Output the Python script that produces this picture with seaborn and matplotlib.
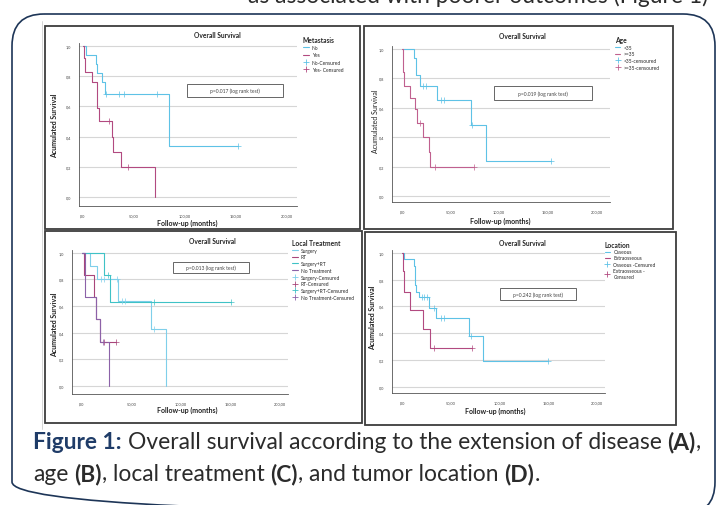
import numpy as np
import pandas as pd
import seaborn as sns
import matplotlib.pyplot as plt
from matplotlib.lines import Line2D
from matplotlib.patches import Rectangle, FancyBboxPatch

W, H = 721, 506

# --- data (months, survival after each step, censored months)
meta_labels = ["No", "Yes"]
meta_no_t = [0, 3, 12.5, 14, 19, 21.5, 84.5]
meta_no_s = [1.0, 0.94, 0.88, 0.82, 0.76, 0.68, 0.34]
meta_no_c = [23, 35, 40, 73, 152]
meta_yes_t = [0, 1, 2, 9, 14, 15.5, 28.5, 29.5, 37, 70.5]
meta_yes_s = [1.0, 0.92, 0.83, 0.76, 0.59, 0.50, 0.40, 0.30, 0.20, 0.0]
meta_yes_c = [26, 44]

age_labels = ["<35", ">=35"]
age_lt_t = [0, 12.5, 14, 18, 35.5, 71, 86]
age_lt_s = [1.0, 0.94, 0.82, 0.75, 0.65, 0.48, 0.24]
age_lt_c = [21.5, 24.5, 40, 43.5, 72.5, 153]
age_ge_t = [0, 1, 2, 8, 13, 15.5, 22, 28, 29]
age_ge_s = [1.0, 0.84, 0.75, 0.67, 0.59, 0.50, 0.40, 0.30, 0.20]
age_ge_c = [18.5, 34, 74.5]

treat_labels = ["Surgery", "RT", "Surgery+RT", "No Treatment"]
treat_surg_t = [0, 8, 15, 37, 69.5, 84.5]
treat_surg_s = [1.0, 0.90, 0.80, 0.64, 0.43, 0.0]
treat_surg_c = [19.5, 22.5, 35.5, 40.5, 44, 73]
treat_rt_t = [0, 2, 12.5, 14, 18.5]
treat_rt_s = [1.0, 0.83, 0.67, 0.50, 0.33]
treat_rt_c = [22, 35]
treat_both_t = [0, 22, 29]
treat_both_s = [1.0, 0.83, 0.63]
treat_both_c = [27, 73, 151]
treat_none_t = [0, 3, 14, 18.5, 28]
treat_none_s = [1.0, 0.67, 0.50, 0.33, 0.0]
treat_none_c = [21]

loc_labels = ["Osseous", "Extraosseous"]
loc_oss_t = [0, 2, 12, 12.5, 13.5, 14.5, 17, 27, 35, 68.5, 83]
loc_oss_s = [1.0, 0.95, 0.90, 0.86, 0.76, 0.71, 0.67, 0.59, 0.51, 0.38, 0.19]
loc_oss_c = [20, 22.5, 25, 32, 40, 43, 70, 149]
loc_ext_t = [0, 1, 2, 8, 21.5, 28]
loc_ext_s = [1.0, 0.86, 0.71, 0.57, 0.43, 0.29]
loc_ext_c = [33, 72]

y_ticks = [0.0, 0.2, 0.4, 0.6, 0.8, 1.0]
y_tick_labels = ["0,0", "0,2", "0,4", "0,6", "0,8", "1,0"]
x_ticks = [0, 50, 100, 150, 200]
x_tick_labels = [",00", "50,00", "100,00", "150,00", "200,00"]

BLUE = "#5ec2e6"
PINK = "#b24a80"

sns.set_theme(style="white")
plt.rcParams["font.family"] = ["Lato", "DejaVu Sans"]

panels = [
    dict(border=(45, 27, 360, 230), axbox=(79, 44, 297, 207), xlim=(-3.9, 210), ylim=(-0.06, 1.02),
         title=(217, 35), xlab=(187, 223), ylab=(55, 126), ybold=True,
         leg_title="Metastasis", leg=(323, 37), lab_sp=0.45,
         pbox=(187, 85, 283, 98), ptext="p=0.017 (log rank test)",
         groups=[(meta_no_t, meta_no_s, meta_no_c, BLUE), (meta_yes_t, meta_yes_s, meta_yes_c, PINK)],
         names=meta_labels, cens_names=["No-Censured", "Yes- Censured"]),
    dict(border=(364, 27, 673, 230), axbox=(392, 47, 610, 203), xlim=(-10.3, 214), ylim=(-0.04, 1.02),
         title=(522, 36), xlab=(500, 221), ylab=(375, 121), ybold=False,
         leg_title="Age", leg=(637, 37), lab_sp=0.35,
         pbox=(494, 87, 592, 101), ptext="p=0.019 (log rank test)",
         groups=[(age_lt_t, age_lt_s, age_lt_c, BLUE), (age_ge_t, age_ge_s, age_ge_c, "#c0608f")],
         names=age_labels, cens_names=["<35-censoured", ">=35-censoured"]),
    dict(border=(45, 232, 362, 424), axbox=(72, 251, 288, 395), xlim=(-9.8, 208), ylim=(-0.06, 1.02),
         title=(212, 241), xlab=(187, 410), ylab=(55, 325), ybold=True,
         leg_title="Local Treatment", leg=(323, 240), lab_sp=0.35,
         pbox=(173, 263, 249, 274), ptext="p=0.013 (log rank test)",
         groups=[(treat_surg_t, treat_surg_s, treat_surg_c, "#7fcfea"),
                 (treat_rt_t, treat_rt_s, treat_rt_c, "#a8457a"),
                 (treat_both_t, treat_both_s, treat_both_c, "#3fc2c6"),
                 (treat_none_t, treat_none_s, treat_none_c, "#8c62a8")],
         names=treat_labels,
         cens_names=["Surgery-Censured", "RT-Censured", "Surgery+RT-Censured", "No Treatment-Censured"]),
    dict(border=(365, 233, 676, 426), axbox=(392, 251, 605, 394), xlim=(-10.6, 208), ylim=(-0.045, 1.02),
         title=(522, 243), xlab=(495, 411), ylab=(373, 318), ybold=True,
         leg_title="Location", leg=(630, 242), lab_sp=0.25,
         pbox=(500, 289, 576, 301), ptext="p=0.242 (log rank test)",
         groups=[(loc_oss_t, loc_oss_s, loc_oss_c, BLUE), (loc_ext_t, loc_ext_s, loc_ext_c, PINK)],
         names=loc_labels, cens_names=["Osseous -Censured", "Extraosseous -\nCensured"]),
]


def km(ax, t, s, c, color):
    end = max([t[-1]] + list(c))
    df = pd.DataFrame({"month": list(t) + [end], "surv": list(s) + [s[-1]]})
    sns.lineplot(data=df, x="month", y="surv", drawstyle="steps-post", color=color, lw=0.8,
                 estimator=None, sort=False, ax=ax)
    if c:
        idx = np.searchsorted(t, c, side="right") - 1
        sns.scatterplot(x=c, y=np.asarray(s)[idx], marker="+", s=14, color=color,
                        linewidth=0.5, ax=ax, zorder=3)


fig = plt.figure(figsize=(W / 100, H / 100), dpi=100)
bg = fig.add_axes([0, 0, 1, 1])
bg.set_xlim(0, W)
bg.set_ylim(H, 0)
bg.axis("off")

# outer rounded frame and image edge
bg.add_patch(FancyBboxPatch((12, 15), 703, 500, boxstyle="round,pad=0,rounding_size=32",
                            fc="none", ec="#1d3557", lw=1.2))
bg.plot([42, 42], [22, 430], color="#cfcfcf", lw=0.6)

for p in panels:
    x0, y0, x1, y1 = p["border"]
    bg.add_patch(Rectangle((x0, y0), x1 - x0, y1 - y0, fc="white", ec="#3d3d3d", lw=1.3))

    a0, b0, a1, b1 = p["axbox"]
    ax = fig.add_axes([a0 / W, 1 - b1 / H, (a1 - a0) / W, (b1 - b0) / H])
    ax.set_facecolor("none")
    for t, s, c, col in p["groups"]:
        km(ax, t, s, c, col)
    ax.set_xlim(*p["xlim"])
    ax.set_ylim(*p["ylim"])
    ax.set_xticks(x_ticks)
    ax.set_xticklabels(x_tick_labels)
    ax.set_yticks(y_ticks)
    ax.set_yticklabels(y_tick_labels)
    ax.set(xlabel="", ylabel="")
    ax.tick_params(labelsize=2.8, labelcolor="#444444", length=1.5, width=0.4, pad=4, colors="#666666")
    ax.grid(axis="y", color="#d6d6d6", lw=0.8)
    ax.set_axisbelow(True)
    for side in ["top", "right"]:
        ax.spines[side].set_visible(False)
    for side in ["left", "bottom"]:
        ax.spines[side].set_color("#555555")
        ax.spines[side].set_linewidth(0.6)

    bg.text(*p["title"], "Overall Survival", fontsize=4.8, fontweight="bold", ha="center", va="center",
            color="#222222")
    bg.text(*p["xlab"], "Follow-up (months)", fontsize=5.0, fontweight="bold", ha="center", va="center",
            color="#222222")
    bg.text(*p["ylab"], "Acumulated Survival", fontsize=5.0, rotation=90,
            fontweight="bold" if p["ybold"] else "normal", ha="center", va="center", color="#222222")

    q0, r0, q1, r1 = p["pbox"]
    bg.add_patch(Rectangle((q0, r0), q1 - q0, r1 - r0, fc="white", ec="#666666", lw=0.7, zorder=5))
    bg.text((q0 + q1) / 2, (r0 + r1) / 2, p["ptext"], fontsize=3.6, ha="center", va="center",
            color="#444444", zorder=6)

    handles = [Line2D([], [], color=g[3], lw=0.8) for g in p["groups"]]
    handles += [Line2D([], [], color=g[3], marker="+", ls="none", ms=4, mew=0.6) for g in p["groups"]]
    leg = ax.legend(handles, p["names"] + p["cens_names"], title=p["leg_title"], loc="upper center",
                    bbox_to_anchor=p["leg"], bbox_transform=bg.transData, frameon=False,
                    fontsize=3.5, title_fontsize=4.8, handlelength=1.2, handletextpad=0.6,
                    labelspacing=p["lab_sp"], borderpad=0, borderaxespad=0)
    leg.get_title().set_fontweight("bold")
    leg._legend_box.align = "left"

# caption
renderer = fig.canvas.get_renderer()
NAVY = "#1f3c68"
GREY = "#2b2b2b"


def text_w(s, size, weight="normal"):
    t = bg.text(0, 0, s, fontsize=size, fontweight=weight)
    w = t.get_window_extent(renderer).width
    t.remove()
    return w


line1 = [("Figure 1:", "bold", NAVY), (" ", None, None),
         ("Overall survival according to the extension of disease", "normal", GREY), (" ", None, None),
         ("(A)", "bold", GREY), (",", "normal", GREY)]
line2 = [("age", "normal", GREY), (" ", None, None), ("(B)", "bold", GREY), (",", "normal", GREY),
         (" ", None, None), ("local treatment", "normal", GREY), (" ", None, None), ("(C)", "bold", GREY),
         (",", "normal", GREY), (" ", None, None), ("and tumor location", "normal", GREY),
         (" ", None, None), ("(D)", "bold", GREY), (".", "normal", GREY)]


def rich(x, y, parts, size, draw=True):
    sp = text_w("a a", size) - text_w("aa", size)
    for seg, weight, color in parts:
        if seg == " ":
            x += sp
            continue
        if draw:
            t = bg.text(x, y, seg, fontsize=size, fontweight=weight, color=color, va="baseline", ha="left")
            x += t.get_window_extent(renderer).width
        else:
            x += text_w(seg, size, weight)
    return x


base = 14
width = rich(0, 0, line1, base, draw=False)
cap_size = base * (700 - 33) / width
rich(33, 449, line1, cap_size)
rich(33, 481, line2, cap_size)

# the line of body text above the figure, mostly cut by the top edge as in the source page
bg.text(708, 2.5, "as associated with poorer outcomes (Figure 1)", fontsize=cap_size, color=GREY,
        ha="right", va="baseline")

fig.savefig("out.png", dpi=100)
